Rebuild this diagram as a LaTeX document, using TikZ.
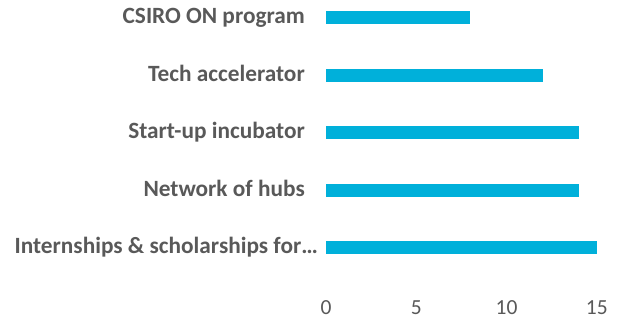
\documentclass[tikz,border=0pt]{standalone}
\usepackage{fontspec}
\setmainfont{Carlito}
\definecolor{barblue}{RGB}{0,176,218}
\definecolor{labelgray}{RGB}{89,89,89}
\begin{document}
\begin{tikzpicture}[x=1pt, y=1pt,
  bar/.style={fill=barblue, draw=none},
  cat/.style={anchor=base east, inner sep=0pt, text=labelgray, font=\fontsize{23.3}{26}\selectfont\bfseries},
  tick/.style={anchor=base, inner sep=0pt, text=labelgray, font=\fontsize{21.5}{24}\selectfont}]
\useasboundingbox (0,0) rectangle (620,320);
% bars (1 unit = 18.05)
\draw [bar] (326,295.65) rectangle (470.4,308.95);
\draw [bar] (326,238.15) rectangle (542.6,251.45);
\draw [bar] (326,180.65) rectangle (578.7,193.95);
\draw [bar] (326,123.15) rectangle (578.7,136.45);
\draw [bar] (326,65.65) rectangle (596.75,78.95);
% category labels
\node [cat] (csiro) at (305,296.4) {CSIRO ON program};
\node [cat] (tech) at (305,238.9) {Tech accelerator};
\node [cat] (startup) at (305,181.4) {Start-up incubator};
\node [cat] (hubs) at (305,123.9) {Network of hubs};
\node [cat] (intern) at (318,66.4) {Internships \& scholarships for…};
% axis labels
\node [tick] (t0) at (326,5.7) {0};
\node [tick] (t5) at (416.25,5.7) {5};
\node [tick] (t10) at (506.5,5.7) {10};
\node [tick] (t15) at (596.75,5.7) {15};
\end{tikzpicture}
\end{document}
